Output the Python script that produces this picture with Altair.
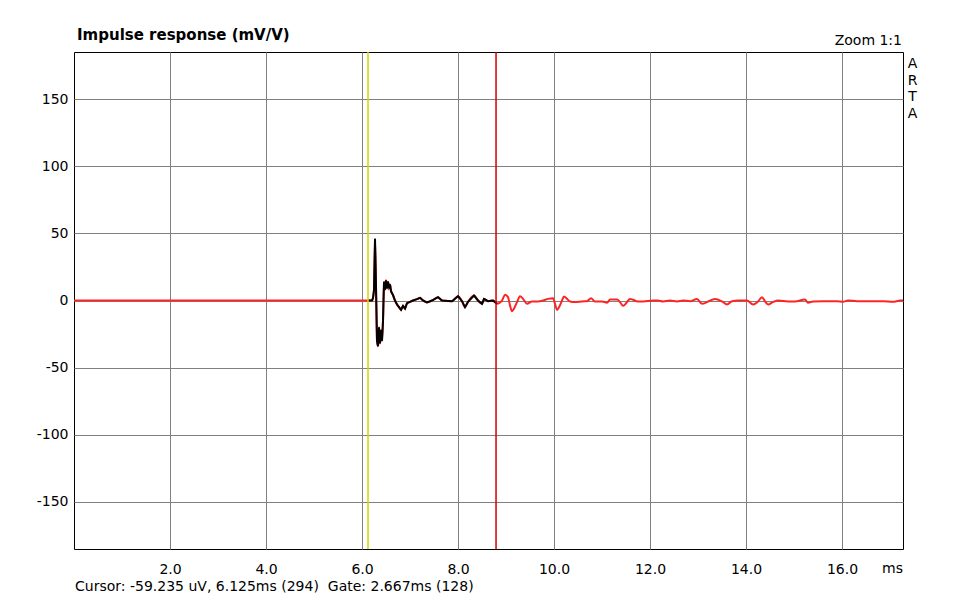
import altair as alt
import pandas as pd

# ---- data (ARTA impulse response, 48 kHz) ----
SAMPLE_RATE_KHZ = 48.0
SAMPLES = [0, 294, 298, 299, 300, 301, 302, 303, 304, 305, 306, 307, 308, 309, 310, 311, 312,
           313, 314, 315, 316, 317, 319, 321, 323, 325, 327, 329, 331, 333, 336, 339, 343,
           346, 349, 353, 358, 364, 368, 378, 384, 388, 391, 394, 400, 404, 408, 410, 414,
           419, 423, 428, 431, 434, 436, 438, 440, 443, 446, 449, 453, 458, 464, 469, 474,
           479, 481, 483, 485, 488, 490, 493, 496, 501, 508, 513, 517, 521, 528, 533, 536,
           543, 546, 549, 551, 556, 559, 564, 569, 579, 584, 589, 596, 603, 609, 616, 623,
           628, 633, 641, 648, 653, 658, 664, 673, 679, 684, 688, 691, 694, 699, 704, 714,
           721, 731, 734, 739, 749, 763, 769, 774, 783, 796, 809, 819, 826, 829]
VALUES = [0, 0, 0, 2, 8, 46, 10, -30, -34, -20, -32, -22, -30, -15, 14, 8, 15,
          9, 14, 10, 12, 7, 4, 0, -3, -5, -7, -4, -6, -2, -1, 0, 1,
          2, 0, -1.5, 0, 2.5, 0, -0.5, 3.2, -0.5, -5, -1, 3.7, 0, -2.5, 1.2, -0.5,
          0, -2.5, 0, 4.2, 2.5, -3.7, -8, -6, -1.2, 3.2, 1.2, -2.5, -0.7, -0.7, 0, 1.2,
          1.7, -2.5, -7, -5, 0, 3, 1.2, -0.7, -1.2, -0.7, -0.5, 1.7, -0.7, -0.7, -1.7, 0.7,
          0.7, -1.2, -4, -3, 1.2, 0.5, -0.7, -0.7, 0, 0, -0.7, 0, -0.7, 0, -0.5, 1.2,
          -2.5, -1.2, 1.2, -0.7, -3, -0.5, 0, 0, -3, -0.7, 2.5, -0.7, -3, -1.2, 0, -0.7,
          -0.7, 0.7, -1.7, -0.7, -0.5, -0.5, -1, 0, -0.5, -0.5, -0.5, -1, 0, 0]
CURSOR_MS = 6.125
GATE_END_MS = 8.792
X_MAX_MS = 17.27
X_TICKS = [2, 4, 6, 8, 10, 12, 14, 16]
Y_TICKS = [-150, -100, -50, 0, 50, 100, 150]
Y_DOMAIN = [-185, 185]

TITLE = "Impulse response (mV/V)"
ZOOM_TEXT = "Zoom 1:1"
BRAND = ["A", "R", "T", "A"]
UNIT = "ms"
STATUS = "Cursor: -59.235 uV, 6.125ms (294)\u00a0\u00a0Gate: 2.667ms (128)"

df = pd.DataFrame({"t": [n / SAMPLE_RATE_KHZ for n in SAMPLES], "v": VALUES})
gated = df[(df["t"] >= CURSOR_MS - 1e-9) & (df["t"] <= GATE_END_MS + 0.03)]

FONT = "DejaVu Sans"
W, H = 829, 497

xs = alt.Scale(domain=[0, X_MAX_MS], nice=False, zero=False)
ys = alt.Scale(domain=Y_DOMAIN, nice=False, zero=False)

x_axis = alt.Axis(values=X_TICKS, format=".1f", title=None, grid=True, ticks=False,
                  tickSize=0, domain=False, labelPadding=24, labelBaseline="alphabetic",
                  labelFont=FONT, labelFontSize=14, labelColor="black")
y_axis = alt.Axis(values=Y_TICKS, labelExpr="'' + datum.value", title=None, grid=True,
                  ticks=False, tickSize=0, domain=False, labelPadding=6, labelFont=FONT,
                  labelFontSize=14, labelColor="black")

red_line = alt.Chart(df).mark_line(color="#ff2424", strokeWidth=2,
                                   interpolate="monotone").encode(
    x=alt.X("t:Q", scale=xs, axis=x_axis),
    y=alt.Y("v:Q", scale=ys, axis=y_axis),
)
black_line = alt.Chart(gated).mark_line(color="black", strokeWidth=2).encode(
    x=alt.X("t:Q", scale=xs),
    y=alt.Y("v:Q", scale=ys),
)
cursor_rule = alt.Chart(pd.DataFrame({"t": [CURSOR_MS]})).mark_rule(
    color="#d4d400", strokeWidth=1.5).encode(x=alt.X("t:Q", scale=xs))
gate_rule = alt.Chart(pd.DataFrame({"t": [GATE_END_MS]})).mark_rule(
    color="#d00000", strokeWidth=1.5).encode(x=alt.X("t:Q", scale=xs))

one = alt.Data(values=[{}])


def label(txt, x, y, align="left", size=14, weight="normal"):
    return alt.Chart(one).mark_text(
        text=txt, align=align, baseline="alphabetic", font=FONT, fontSize=size,
        fontWeight=weight, color="black"
    ).encode(x=alt.value(x), y=alt.value(y))


texts = [
    label(TITLE, 3, -12, size=15, weight="bold"),
    label(ZOOM_TEXT, 828, -7, align="right"),
    label(UNIT, 808, 521),
    label(STATUS, 1, 539),
]
for i, ch in enumerate(BRAND):
    texts.append(label(ch, 838.5, 16 + i * 16.5, align="center"))

chart = alt.layer(red_line, black_line, cursor_rule, gate_rule, *texts).properties(
    width=W, height=H,
    autosize=alt.AutoSizeParams(type="none"),
    padding={"left": 66, "top": 44, "right": 40, "bottom": 47},
    background="white",
).configure_view(stroke="black", strokeWidth=1).configure_axis(
    gridColor="#808080", gridWidth=1, gridOpacity=1
)

chart.save("out.html", embed_options={"renderer": "svg", "actions": False})
